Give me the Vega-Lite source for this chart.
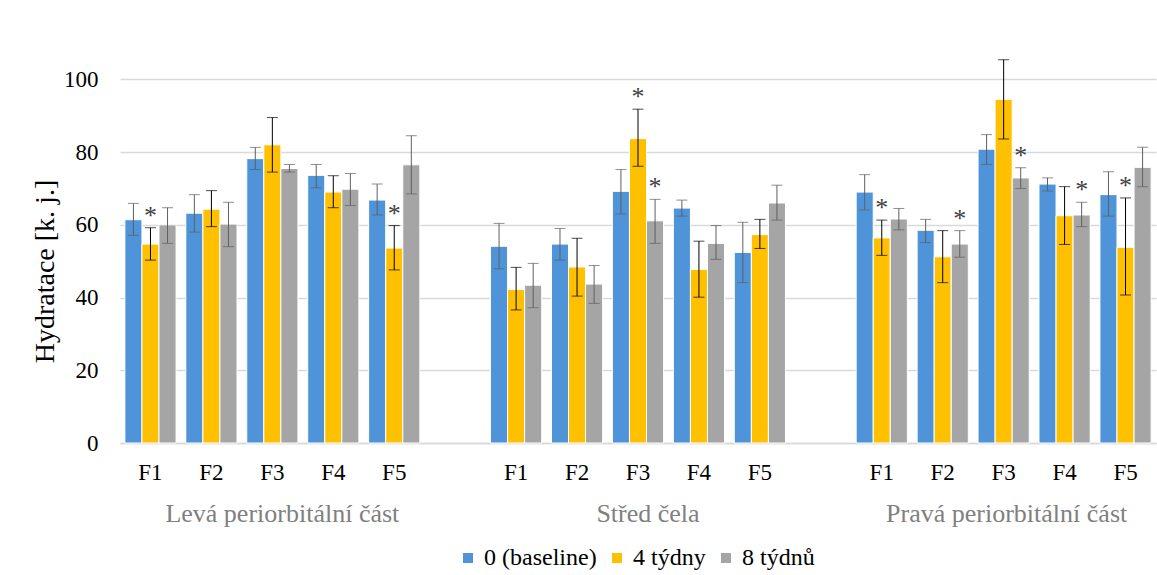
{
  "$schema": "https://vega.github.io/schema/vega-lite/v6.json",
  "width": 1036,
  "height": 400,
  "autosize": {"type": "none"},
  "padding": {"left": 120, "top": 43, "right": 1, "bottom": 132},
  "config": {
    "font": "Liberation Serif",
    "view": {"stroke": null},
    "axis": {"labelFont": "Liberation Serif", "titleFont": "Liberation Serif"},
    "legend": {"labelFont": "Liberation Serif", "titleFont": "Liberation Serif"},
    "text": {"font": "Liberation Serif"}
  },
  "data": {
    "values": [
      {"slot": "L-F1", "series": "0 (baseline)", "value": 61.4, "lo": 57.1, "hi": 65.9, "sig": false},
      {"slot": "L-F1", "series": "4 týdny", "value": 54.7, "lo": 50.3, "hi": 59.2, "sig": true},
      {"slot": "L-F1", "series": "8 týdnů", "value": 60.0, "lo": 54.9, "hi": 64.7, "sig": false},
      {"slot": "L-F2", "series": "0 (baseline)", "value": 63.2, "lo": 58.0, "hi": 68.3, "sig": false},
      {"slot": "L-F2", "series": "4 týdny", "value": 64.3, "lo": 59.5, "hi": 69.4, "sig": false},
      {"slot": "L-F2", "series": "8 týdnů", "value": 60.2, "lo": 54.0, "hi": 66.2, "sig": false},
      {"slot": "L-F3", "series": "0 (baseline)", "value": 78.2, "lo": 75.2, "hi": 81.3, "sig": false},
      {"slot": "L-F3", "series": "4 týdny", "value": 82.0, "lo": 74.5, "hi": 89.5, "sig": false},
      {"slot": "L-F3", "series": "8 týdnů", "value": 75.5, "lo": 74.5, "hi": 76.6, "sig": false},
      {"slot": "L-F4", "series": "0 (baseline)", "value": 73.6, "lo": 70.2, "hi": 76.6, "sig": false},
      {"slot": "L-F4", "series": "4 týdny", "value": 69.0, "lo": 64.7, "hi": 73.5, "sig": false},
      {"slot": "L-F4", "series": "8 týdnů", "value": 69.8, "lo": 65.3, "hi": 74.1, "sig": false},
      {"slot": "L-F5", "series": "0 (baseline)", "value": 66.8, "lo": 62.7, "hi": 71.2, "sig": false},
      {"slot": "L-F5", "series": "4 týdny", "value": 53.6, "lo": 47.6, "hi": 59.8, "sig": true},
      {"slot": "L-F5", "series": "8 týdnů", "value": 76.5, "lo": 68.5, "hi": 84.5, "sig": false},
      {"slot": "S-F1", "series": "0 (baseline)", "value": 54.1, "lo": 47.9, "hi": 60.4, "sig": false},
      {"slot": "S-F1", "series": "4 týdny", "value": 42.2, "lo": 36.6, "hi": 48.3, "sig": false},
      {"slot": "S-F1", "series": "8 týdnů", "value": 43.4, "lo": 37.2, "hi": 49.4, "sig": false},
      {"slot": "S-F2", "series": "0 (baseline)", "value": 54.7, "lo": 50.3, "hi": 59.0, "sig": false},
      {"slot": "S-F2", "series": "4 týdny", "value": 48.4, "lo": 40.4, "hi": 56.3, "sig": false},
      {"slot": "S-F2", "series": "8 týdnů", "value": 43.7, "lo": 38.4, "hi": 48.8, "sig": false},
      {"slot": "S-F3", "series": "0 (baseline)", "value": 69.2, "lo": 63.0, "hi": 75.2, "sig": false},
      {"slot": "S-F3", "series": "4 týdny", "value": 83.7, "lo": 76.1, "hi": 91.8, "sig": true},
      {"slot": "S-F3", "series": "8 týdnů", "value": 61.1, "lo": 54.9, "hi": 67.0, "sig": true},
      {"slot": "S-F4", "series": "0 (baseline)", "value": 64.6, "lo": 62.4, "hi": 66.8, "sig": false},
      {"slot": "S-F4", "series": "4 týdny", "value": 47.7, "lo": 40.1, "hi": 55.5, "sig": false},
      {"slot": "S-F4", "series": "8 týdnů", "value": 54.9, "lo": 50.5, "hi": 59.8, "sig": false},
      {"slot": "S-F5", "series": "0 (baseline)", "value": 52.4, "lo": 44.1, "hi": 60.7, "sig": false},
      {"slot": "S-F5", "series": "4 týdny", "value": 57.3, "lo": 53.5, "hi": 61.5, "sig": false},
      {"slot": "S-F5", "series": "8 týdnů", "value": 66.0, "lo": 61.3, "hi": 70.9, "sig": false},
      {"slot": "P-F1", "series": "0 (baseline)", "value": 69.0, "lo": 64.1, "hi": 73.8, "sig": false},
      {"slot": "P-F1", "series": "4 týdny", "value": 56.4, "lo": 51.6, "hi": 61.3, "sig": true},
      {"slot": "P-F1", "series": "8 týdnů", "value": 61.6, "lo": 58.6, "hi": 64.5, "sig": false},
      {"slot": "P-F2", "series": "0 (baseline)", "value": 58.5, "lo": 55.1, "hi": 61.5, "sig": false},
      {"slot": "P-F2", "series": "4 týdny", "value": 51.2, "lo": 44.1, "hi": 58.4, "sig": false},
      {"slot": "P-F2", "series": "8 týdnů", "value": 54.7, "lo": 51.1, "hi": 58.4, "sig": true},
      {"slot": "P-F3", "series": "0 (baseline)", "value": 80.8, "lo": 76.6, "hi": 84.8, "sig": false},
      {"slot": "P-F3", "series": "4 týdny", "value": 94.5, "lo": 83.6, "hi": 105.4, "sig": false},
      {"slot": "P-F3", "series": "8 týdnů", "value": 72.9, "lo": 70.0, "hi": 75.7, "sig": true},
      {"slot": "P-F4", "series": "0 (baseline)", "value": 71.2, "lo": 69.3, "hi": 72.9, "sig": false},
      {"slot": "P-F4", "series": "4 týdny", "value": 62.5, "lo": 54.6, "hi": 70.5, "sig": false},
      {"slot": "P-F4", "series": "8 týdnů", "value": 62.7, "lo": 59.5, "hi": 66.2, "sig": true},
      {"slot": "P-F5", "series": "0 (baseline)", "value": 68.3, "lo": 62.4, "hi": 74.6, "sig": false},
      {"slot": "P-F5", "series": "4 týdny", "value": 53.8, "lo": 40.7, "hi": 67.4, "sig": true},
      {"slot": "P-F5", "series": "8 týdnů", "value": 75.8, "lo": 70.5, "hi": 81.3, "sig": false}
    ]
  },
  "layer": [
    {
      "mark": {"type": "bar", "stroke": "white", "strokeWidth": 1},
      "encoding": {
        "x": {
          "field": "slot", "type": "nominal", "sort": null,
          "scale": {
            "domain": ["L-F1", "L-F2", "L-F3", "L-F4", "L-F5", "gap1", "S-F1", "S-F2", "S-F3", "S-F4", "S-F5", "gap2", "P-F1", "P-F2", "P-F3", "P-F4", "P-F5"],
            "paddingInner": 0.16, "paddingOuter": 0.08
          },
          "axis": {
            "title": null, "labelAngle": 0, "ticks": false, "grid": false,
            "domain": true, "domainColor": "#D9D9D9", "domainWidth": 1.5,
            "labelFont": "Liberation Serif", "labelFontSize": 23, "labelColor": "#000000", "labelPadding": 18,
            "labelExpr": "indexof(datum.value, '-') > 0 ? split(datum.value, '-')[1] : ''"
          }
        },
        "xOffset": {"field": "series", "type": "nominal", "scale": {"domain": ["0 (baseline)", "4 týdny", "8 týdnů"]}},
        "y": {
          "field": "value", "type": "quantitative",
          "scale": {"domain": [0, 110]},
          "axis": {
            "title": "Hydratace [k. j.]", "titleFont": "Liberation Serif", "titleFontSize": 28, "titleFontWeight": "normal", "titleColor": "#000000",
            "titlePadding": 4, "titleY": 228,
            "values": [0, 20, 40, 60, 80, 100], "domain": false, "ticks": false,
            "grid": true, "gridColor": "#D9D9D9", "gridWidth": 1.5,
            "labelFont": "Liberation Serif", "labelFontSize": 23, "labelColor": "#000000", "labelPadding": 22
          }
        },
        "color": {
          "field": "series", "type": "nominal",
          "scale": {"domain": ["0 (baseline)", "4 týdny", "8 týdnů"], "range": ["#4F94D8", "#FFC000", "#A5A5A5"]},
          "legend": {
            "title": null, "orient": "none", "legendX": 336, "legendY": 503, "direction": "horizontal",
            "symbolType": "square", "symbolSize": 100, "symbolStrokeWidth": 0,
            "labelFont": "Liberation Serif", "labelFontSize": 24, "labelColor": "#000000", "labelOffset": 4, "columnPadding": 8
          }
        }
      }
    },
    {
      "mark": {"type": "rule", "strokeWidth": 1},
      "encoding": {
        "x": {
          "field": "slot", "type": "nominal", "sort": null,
          "axis": {
            "orient": "bottom", "title": null, "labelAngle": 0, "ticks": false, "grid": false, "domain": false,
            "labelFont": "Liberation Serif", "labelFontSize": 26, "labelColor": "#808080", "labelPadding": 57, "labelLimit": 0, "labelOverlap": false,
            "labelOffset": {"condition": {"test": "datum.value == 'P-F3'", "value": 3}, "value": 10},
            "labelExpr": "datum.value == 'L-F3' ? 'Levá periorbitální část' : datum.value == 'S-F3' ? 'Střed čela' : datum.value == 'P-F3' ? 'Pravá periorbitální část' : ''"
          }
        },
        "xOffset": {"field": "series", "type": "nominal"},
        "y": {"field": "lo", "type": "quantitative", "title": "Hydratace [k. j.]"},
        "y2": {"field": "hi"},
        "color": {"condition": {"test": "datum.series == '4 týdny'", "value": "#000000"}, "value": "#5F5F5F"}
      }
    },
    {
      "mark": {"type": "tick", "size": 11, "thickness": 1},
      "encoding": {
        "x": {"field": "slot", "type": "nominal", "sort": null, "axis": null},
        "xOffset": {"field": "series", "type": "nominal"},
        "y": {"field": "hi", "type": "quantitative", "title": "Hydratace [k. j.]"},
        "color": {"condition": {"test": "datum.series == '4 týdny'", "value": "#000000"}, "value": "#5F5F5F"}
      }
    },
    {
      "mark": {"type": "tick", "size": 11, "thickness": 1},
      "encoding": {
        "x": {"field": "slot", "type": "nominal", "sort": null, "axis": null},
        "xOffset": {"field": "series", "type": "nominal"},
        "y": {"field": "lo", "type": "quantitative", "title": "Hydratace [k. j.]"},
        "color": {"condition": {"test": "datum.series == '4 týdny'", "value": "#000000"}, "value": "#5F5F5F"}
      }
    },
    {
      "transform": [{"filter": "datum.sig"}],
      "mark": {"type": "text", "text": "*", "font": "Liberation Serif", "fontSize": 26, "color": "#404040", "baseline": "alphabetic", "dy": -4},
      "encoding": {
        "x": {"field": "slot", "type": "nominal", "sort": null, "axis": null},
        "xOffset": {"field": "series", "type": "nominal"},
        "y": {"field": "hi", "type": "quantitative", "title": "Hydratace [k. j.]"}
      }
    }
  ],
  "resolve": {"axis": {"x": "independent"}}
}
